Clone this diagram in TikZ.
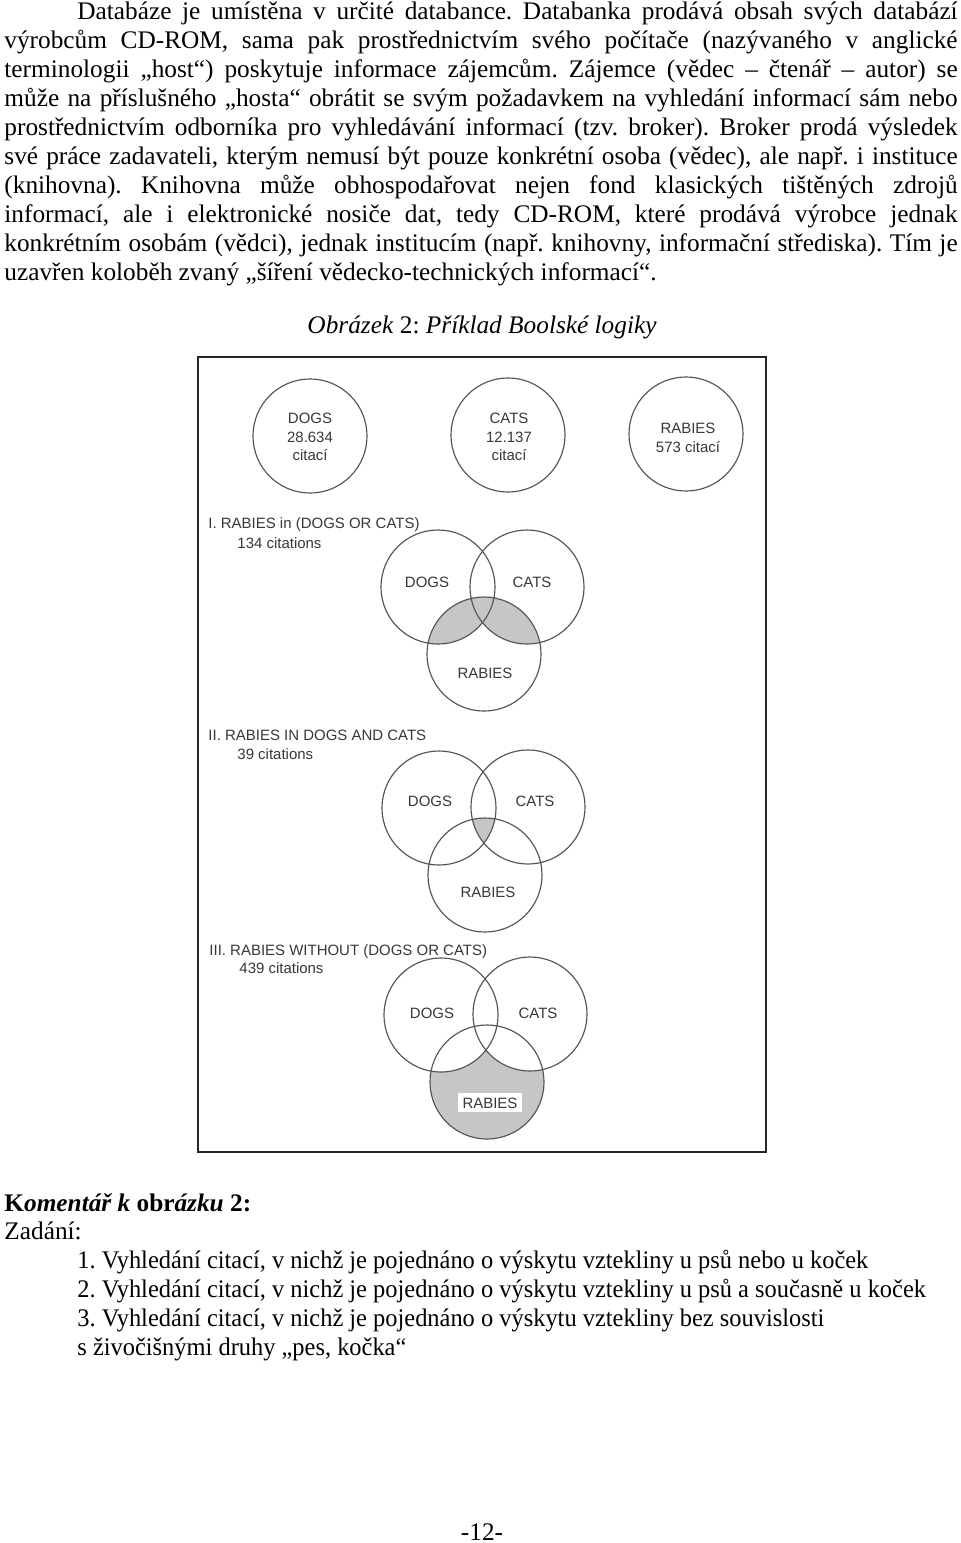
\documentclass[tikz,border=0pt]{standalone}
\usepackage{fontspec}
\setmainfont{Liberation Serif}
\newfontfamily\figfont{Liberation Sans}
\newfontfamily\listfont[FakeStretch=0.965]{Liberation Serif}
\frenchspacing
\definecolor{lblgray}{HTML}{383838}
\definecolor{ringgray}{HTML}{555555}
\definecolor{hatchgray}{HTML}{C6C6C6}
\tikzset{
  txt/.style={anchor=base west, inner sep=0pt, font=\fontsize{12}{13.75}\selectfont},
  itemline/.style={txt, font=\listfont\fontsize{12}{13.75}\selectfont},
  lbl/.style={inner sep=0pt, text=lblgray, font=\figfont\fontsize{7.1}{8.5}\selectfont},
  ring/.style={draw=ringgray, line width=0.55pt},
}
\begin{document}
\begin{tikzpicture}[x=0.016667cm,y=-0.016667cm]
    \useasboundingbox (0,0) rectangle (960,1543);
    \fill[white] (0,0) rectangle (960,1543);
    %% paragraph above the figure
    \node[txt] (p1) at (77,19) {\makebox[14.667cm][s]{Databáze je umístěna v~určité databance. Databanka prodává obsah svých databází}};
    \node[txt] (p2) at (4,48) {\makebox[15.883cm][s]{výrobcům CD-ROM, sama pak prostřednictvím svého počítače (nazývaného v~anglické}};
    \node[txt] (p3) at (4,77) {\makebox[15.883cm][s]{terminologii „host“) poskytuje informace zájemcům. Zájemce (vědec – čtenář – autor) se}};
    \node[txt] (p4) at (4,106) {\makebox[15.883cm][s]{může na příslušného „hosta“ obrátit se svým požadavkem na vyhledání informací sám nebo}};
    \node[txt] (p5) at (4,135) {\makebox[15.883cm][s]{prostřednictvím odborníka pro vyhledávání informací (tzv. broker). Broker prodá výsledek}};
    \node[txt] (p6) at (4,164) {\makebox[15.883cm][s]{své práce zadavateli, kterým nemusí být pouze konkrétní osoba (vědec), ale např. i instituce}};
    \node[txt] (p7) at (4,193) {\makebox[15.883cm][s]{(knihovna). Knihovna může obhospodařovat nejen fond klasických tištěných zdrojů}};
    \node[txt] (p8) at (4,222) {\makebox[15.883cm][s]{informací, ale i elektronické nosiče dat, tedy CD-ROM, které prodává výrobce jednak}};
    \node[txt] (p9) at (4,251) {\makebox[15.883cm][s]{konkrétním osobám (vědci), jednak institucím (např. knihovny, informační střediska). Tím je}};
    \node[txt] (p10) at (4,280) {uzavřen koloběh zvaný „šíření vědecko-technických informací“.};
    %% caption
    \node[txt,anchor=base] (cap) at (482,333) {\textit{Obrázek} 2: \textit{Příklad Boolské logiky}};
    %% frame
    \draw[line width=1pt,black!85] (198,357) rectangle (766,1152);
    %% single sets
    \draw[ring] (310,436) circle (0.95cm);
    \draw[ring] (508,435) circle (0.95cm);
    \draw[ring] (686,434) circle (0.95cm);
    \node[lbl,anchor=base] (dogs0) at (310,423) {DOGS};
    \node[lbl,anchor=base] (dogsn) at (310,442) {28.634};
    \node[lbl,anchor=base] (dogsc) at (310,460) {citací};
    \node[lbl,anchor=base] (cats0) at (509,423) {CATS};
    \node[lbl,anchor=base] (catsn) at (509,442) {12.137};
    \node[lbl,anchor=base] (catsc) at (509,460) {citací};
    \node[lbl,anchor=base] (rab0) at (688,433) {RABIES};
    \node[lbl,anchor=base] (rabn) at (688,452) {573 citací};
    %% I. rabies and (dogs or cats)
    \node[lbl,anchor=base west] (t1) at (208,528) {I. RABIES in (DOGS OR CATS)};
    \node[lbl,anchor=base west] (n1) at (237,548) {134 citations};
    \begin{scope}
        \clip (484,654) circle (0.95cm);
        \fill[hatchgray] (438,587) circle (0.95cm) (527,587) circle (0.95cm);
    \end{scope}
    \draw[ring] (438,587) circle (0.95cm);
    \draw[ring] (527,587) circle (0.95cm);
    \draw[ring] (484,654) circle (0.95cm);
    \node[lbl,anchor=base] (d1) at (427,587) {DOGS};
    \node[lbl,anchor=base] (c1) at (532,587) {CATS};
    \node[lbl,anchor=base] (r1) at (485,678) {RABIES};
    %% II. rabies and dogs and cats
    \node[lbl,anchor=base west] (t2) at (208,740) {II. RABIES IN DOGS AND CATS};
    \node[lbl,anchor=base west] (n2) at (237,759) {39 citations};
    \begin{scope}
        \clip (439,808) circle (0.95cm);
        \clip (528,807) circle (0.95cm);
        \fill[hatchgray] (485,875) circle (0.95cm);
    \end{scope}
    \draw[ring] (439,808) circle (0.95cm);
    \draw[ring] (528,807) circle (0.95cm);
    \draw[ring] (485,875) circle (0.95cm);
    \node[lbl,anchor=base] (d2) at (430,806) {DOGS};
    \node[lbl,anchor=base] (c2) at (535,806) {CATS};
    \node[lbl,anchor=base] (r2) at (488,897) {RABIES};
    %% III. rabies without (dogs or cats)
    \node[lbl,anchor=base west] (t3) at (209,955) {III. RABIES WITHOUT (DOGS OR CATS)};
    \node[lbl,anchor=base west] (n3) at (239,973) {439 citations};
    \fill[hatchgray] (487,1082) circle (0.95cm);
    \fill[white] (441,1015) circle (0.95cm) (530,1014) circle (0.95cm);
    \draw[ring] (441,1015) circle (0.95cm);
    \draw[ring] (530,1014) circle (0.95cm);
    \draw[ring] (487,1082) circle (0.95cm);
    \node[lbl,anchor=base] (d3) at (432,1018) {DOGS};
    \node[lbl,anchor=base] (c3) at (538,1018) {CATS};
    \node[lbl,anchor=base,fill=white,inner xsep=2pt,inner ysep=2pt] (r3) at (490,1108) {RABIES};
    %% comment below the figure
    \node[txt] (k0) at (4,1211) {\bfseries K\textit{omentář k} obr\textit{ázku} 2:};
    \node[txt] (k1) at (4,1239) {Zadání:};
    \node[itemline] (k2) at (77,1268) {1. Vyhledání citací, v~nichž je pojednáno o výskytu vztekliny u psů nebo u koček};
    \node[itemline] (k3) at (77,1297) {2. Vyhledání citací, v~nichž je pojednáno o výskytu vztekliny u psů a současně u koček};
    \node[itemline] (k4) at (77,1326) {3. Vyhledání citací, v~nichž je pojednáno o výskytu vztekliny bez souvislosti};
    \node[itemline] (k5) at (77,1355) {s~živočišnými druhy „pes, kočka“};
    %% page number
    \node[txt,anchor=base] (pg) at (482,1540) {-12-};
\end{tikzpicture}
\end{document}
